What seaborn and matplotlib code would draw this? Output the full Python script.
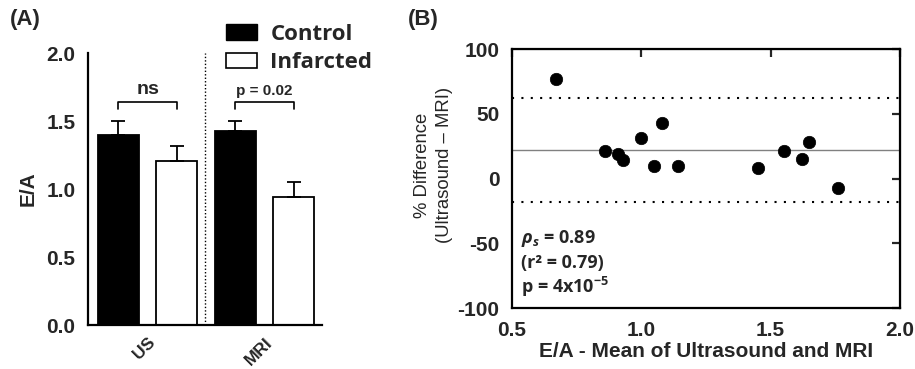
import matplotlib
matplotlib.use("Agg")
import matplotlib.pyplot as plt
import pandas as pd
import seaborn as sns
from matplotlib.patches import Patch

# Panel A data
methods = ["US", "MRI"]
groups = ["Control", "Infarcted"]
ea_control = [1.40, 1.43]
ea_infarcted = [1.21, 0.94]
sem_control = [0.10, 0.07]
sem_infarcted = [0.11, 0.11]
pair_labels = ["ns", "p = 0.02"]

# Panel B data (Bland-Altman)
ba_mean = [0.67, 0.86, 0.91, 0.93, 1.00, 1.05, 1.08, 1.14, 1.45, 1.55, 1.62, 1.65, 1.76]
ba_diff = [77, 21, 19, 14, 31, 10, 43, 10, 8, 21, 15, 28, -7]
bias = 22
loa_upper = 62
loa_lower = -18

sns.set_style("white")
plt.rcParams['font.family'] = ['Liberation Sans', 'DejaVu Sans']
plt.rcParams['mathtext.fontset'] = 'custom'
plt.rcParams['mathtext.rm'] = 'Open Sans:bold'
plt.rcParams['mathtext.it'] = 'Open Sans:italic:bold'
plt.rcParams['mathtext.bf'] = 'Open Sans:bold'
soft = ['Open Sans', 'DejaVu Sans']

fig = plt.figure(figsize=(9.15, 3.69), dpi=100)
axA = fig.add_axes([0.096, 0.119, 0.256, 0.737])
axB = fig.add_axes([0.5596, 0.165, 0.424, 0.702])

# ---------- Panel A ----------
df = pd.DataFrame({
    "method": methods * 2,
    "group": [groups[0]] * 2 + [groups[1]] * 2,
    "ea": ea_control + ea_infarcted,
    "sem": sem_control + sem_infarcted,
})
sns.barplot(data=df, x="method", y="ea", hue="group", order=methods, hue_order=groups,
            palette={"Control": "black", "Infarcted": "white"}, edgecolor="black",
            linewidth=1.3, width=1.0, gap=0.3, errorbar=None, legend=False, ax=axA)

# error bars (upper only), positions from the drawn bars
errs = sem_control + sem_infarcted
centers = {}
for p, e, m, g in zip(axA.patches, errs, df["method"], df["group"]):
    cx = p.get_x() + p.get_width() / 2
    h = p.get_height()
    centers[(m, g)] = cx
    axA.errorbar(cx, h, yerr=[[0], [e]], fmt="none", ecolor="black",
                 elinewidth=1.3, capsize=5, capthick=1.3, zorder=1)

# significance brackets
for m, lab in zip(methods, pair_labels):
    x1 = centers[(m, "Control")]
    x2 = centers[(m, "Infarcted")]
    yb = 1.64
    axA.plot([x1, x1, x2, x2], [yb - 0.05, yb, yb, yb - 0.05], color="black", lw=1.2)
    fs = 14 if lab == "ns" else 11
    axA.text((x1 + x2) / 2, yb + 0.03, lab, ha="center", va="bottom",
             fontsize=fs, fontweight="bold")

axA.axvline(0.49, color="black", lw=1, ls=(0, (1, 1.5)))
axA.set_xlim(-0.51, 1.49)
axA.set_ylim(0, 2.0)
axA.set_yticks([0, 0.5, 1.0, 1.5, 2.0])
axA.set_yticklabels(["0.0", "0.5", "1.0", "1.5", "2.0"], fontsize=15, fontweight="bold")
axA.set_xticks([0, 1])
axA.set_xticklabels(methods, fontsize=12.5, fontweight="bold", rotation=45,
                    ha="right", rotation_mode="anchor")
axA.set_xlabel("")
axA.set_ylabel("E/A", fontsize=15, fontweight="bold", labelpad=6)
for s in ["top", "right"]:
    axA.spines[s].set_visible(False)
for s in ["left", "bottom"]:
    axA.spines[s].set_linewidth(1.6)
    axA.spines[s].set_color("black")
axA.tick_params(axis="both", direction="out", length=6, width=1.6, color="black", pad=3)
axA.tick_params(axis="x", pad=1)

handles = [Patch(facecolor="black", edgecolor="black", label="Control"),
           Patch(facecolor="white", edgecolor="black", linewidth=1.2, label="Infarcted")]
fig.legend(handles=handles, loc="upper left", bbox_to_anchor=(0.225, 0.99),
           frameon=False, handlelength=1.4, handleheight=0.7,
           handletextpad=0.6, labelspacing=0.35,
           prop={"family": soft, "weight": "bold", "size": 16})

fig.text(0.011, 0.975, "(A)", fontsize=16, fontweight="bold", ha="left", va="top")
fig.text(0.446, 0.975, "(B)", fontsize=16, fontweight="bold", ha="left", va="top")

# ---------- Panel B ----------
sns.scatterplot(x=ba_mean, y=ba_diff, color="black", s=80, edgecolor="black",
                linewidth=0.5, ax=axB, zorder=3)
axB.axhline(bias, color="#808080", lw=1.0)
axB.axhline(loa_upper, color="black", lw=1.5, ls=(0, (1, 3.5)))
axB.axhline(loa_lower, color="black", lw=1.5, ls=(0, (1, 3.5)))

axB.set_xlim(0.5, 2.0)
axB.set_ylim(-100, 100)
axB.set_xticks([0.5, 1.0, 1.5, 2.0])
axB.set_xticklabels(["0.5", "1.0", "1.5", "2.0"], fontsize=15, fontweight="bold")
axB.set_yticks([-100, -50, 0, 50, 100])
axB.set_yticklabels(["-100", "-50", "0", "50", "100"], fontsize=15, fontweight="bold")
axB.set_xlabel("E/A - Mean of Ultrasound and MRI", fontsize=15, fontweight="bold",
               labelpad=2)
axB.set_ylabel("% Difference\n(Ultrasound \u2013 MRI)", fontsize=13.3, linespacing=1.4)
axB.yaxis.set_label_coords(-0.152, 0.552)
for s in axB.spines.values():
    s.set_linewidth(1.6)
    s.set_color("black")
axB.tick_params(axis="both", direction="out", length=6, width=1.6, color="black", pad=3)
top = axB.secondary_xaxis("top")
top.set_xticks([0.5, 1.0, 1.5, 2.0])
top.tick_params(direction="in", length=6, width=1.6, labeltop=False)
right = axB.secondary_yaxis("right")
right.set_yticks([-100, -50, 0, 50, 100])
right.tick_params(direction="in", length=6, width=1.6, labelright=False)

axB.text(0.022, 0.27, r"$\rho_s$ = 0.89", transform=axB.transAxes,
         fontsize=13, fontweight="bold", va="center", family=soft)
axB.text(0.022, 0.174, "(r\u00b2 = 0.79)", transform=axB.transAxes,
         fontsize=13, fontweight="bold", va="center", family=soft)
axB.text(0.022, 0.081, r"p = 4x10$^{-5}$", transform=axB.transAxes,
         fontsize=13, fontweight="bold", va="center", family=soft)

fig.savefig("out.png", dpi=100)
